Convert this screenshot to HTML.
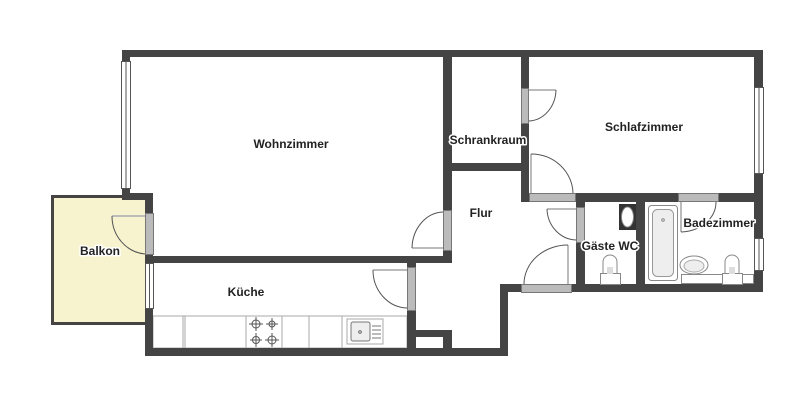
<!DOCTYPE html>
<html><head><meta charset="utf-8"><style>
html,body{margin:0;padding:0;background:#fff;width:811px;height:406px;overflow:hidden}
svg{display:block}
text{font-family:"Liberation Sans",sans-serif;font-size:12px;font-weight:bold;fill:#222;stroke:#fff;stroke-width:3px;paint-order:stroke;stroke-linejoin:round}
</style></head><body>
<svg width="811" height="406" viewBox="0 0 811 406" xmlns="http://www.w3.org/2000/svg">
<rect x="52.5" y="196.5" width="96" height="127" fill="#f7f3cf" stroke="#444" stroke-width="3"/>
<g fill="#fff" stroke="#aaa" stroke-width="1">
<rect x="153" y="316" width="254" height="32"/>
<line x1="183" y1="316" x2="183" y2="348"/><line x1="185" y1="316" x2="185" y2="348"/>
<line x1="246" y1="316" x2="246" y2="348"/><line x1="282" y1="316" x2="282" y2="348"/>
<line x1="309" y1="316" x2="309" y2="348"/><line x1="342" y1="316" x2="342" y2="348"/>
<rect x="347" y="319" width="36" height="25"/>
<rect x="351" y="322" width="19" height="19" rx="2" fill="#eee" stroke="#777"/>
<line x1="372" y1="326" x2="381" y2="326" stroke="#777"/><line x1="372" y1="330" x2="381" y2="330" stroke="#777"/><line x1="372" y1="334" x2="381" y2="334" stroke="#777"/><line x1="372" y1="338" x2="381" y2="338" stroke="#777"/>
</g>
<circle cx="360" cy="332" r="1.3" fill="none" stroke="#666"/>
<g fill="none" stroke="#555" stroke-width="1">
<circle cx="256" cy="324" r="4"/><circle cx="272" cy="324" r="3"/><circle cx="256" cy="340" r="3.5"/><circle cx="272" cy="340" r="4"/>
<path d="M249 324h14M256 317v14M266 324h12M272 318v12M250 340h12M256 333v14M265 340h14M272 333v14"/>
</g>
<g fill="#444">
<rect x="122" y="50" width="641" height="7"/>
<rect x="122" y="50" width="8" height="150"/>
<rect x="122" y="193" width="31" height="7"/>
<rect x="145" y="193" width="8" height="163"/>
<rect x="145" y="256" width="307" height="7"/>
<rect x="443" y="50" width="9" height="213"/>
<rect x="145" y="348" width="363" height="8"/>
<rect x="407" y="263" width="9" height="93"/>
<rect x="407" y="330" width="45" height="7"/>
<rect x="443" y="330" width="9" height="26"/>
<rect x="521" y="50" width="8" height="152"/>
<rect x="452" y="163" width="69" height="8"/>
<rect x="521" y="193" width="242" height="9"/>
<rect x="754" y="50" width="9" height="242"/>
<rect x="576" y="193" width="9" height="99"/>
<rect x="636" y="193" width="9" height="99"/>
<rect x="500" y="284" width="263" height="8"/>
<rect x="500" y="284" width="8" height="72"/>
</g>
<rect x="417" y="338" width="25" height="9" fill="#fff"/>
<g fill="#fff" stroke="#555" stroke-width="1">
<rect x="121.5" y="61.5" width="9" height="127"/>
<line x1="126" y1="61" x2="126" y2="189"/>
<rect x="145.5" y="263.5" width="8" height="45"/>
<line x1="149.5" y1="263" x2="149.5" y2="309"/>
<rect x="754.5" y="87.5" width="9" height="86"/>
<line x1="759" y1="87" x2="759" y2="174"/>
<rect x="754.5" y="238.5" width="9" height="32"/>
<line x1="759" y1="238" x2="759" y2="271"/>
</g>
<g fill="#bbb" stroke="#777" stroke-width="1">
<rect x="145.5" y="213.5" width="8" height="41"/>
<rect x="443.5" y="210.5" width="8" height="40"/>
<rect x="407.5" y="267.5" width="8" height="43"/>
<rect x="521.5" y="88.5" width="7" height="35"/>
<rect x="529.5" y="193.5" width="46" height="8"/>
<rect x="678.5" y="193.5" width="40" height="8"/>
<rect x="576.5" y="207.5" width="8" height="35"/>
<rect x="521.5" y="284.5" width="50" height="8"/>
</g>
<g fill="none" stroke="#bbb" stroke-width="2">
<path d="M112 216H145M412 248H443M373 270H407M529 90H556M531 154V193M547 209H576M568 245V284M681 202V232"/>
</g>
<g fill="none" stroke="#555" stroke-width="1">
<path d="M112 216A36 38 0 0 0 145 254"/>
<path d="M412 248A32 37 0 0 1 443 212"/>
<path d="M373 270A35 38 0 0 0 407 308"/>
<path d="M556 90A28 32 0 0 1 529 121"/>
<path d="M531 154A42 40 0 0 1 573 193"/>
<path d="M547 209A30 32 0 0 0 576 240"/>
<path d="M568 245A44 39 0 0 0 524 284"/>
<path d="M681 232A36 30 0 0 0 716 202"/>
</g>
<rect x="619" y="204" width="17" height="26" fill="#333"/>
<ellipse cx="627.5" cy="217" rx="6" ry="10" fill="#fff" stroke="#888"/>
<rect x="648.5" y="205.5" width="29" height="75" rx="3" fill="#fff" stroke="#888"/>
<rect x="652.5" y="209.5" width="21" height="67" rx="5" fill="#eee" stroke="#999"/>
<circle cx="663" cy="220" r="1.3" fill="none" stroke="#888"/>
<rect x="681.5" y="274.5" width="72" height="9" fill="#fff" stroke="#888"/>
<ellipse cx="694" cy="265" rx="14" ry="9" fill="#fff" stroke="#888"/>
<ellipse cx="694" cy="266" rx="10" ry="6" fill="#eee" stroke="#aaa"/>
<g fill="#fff" stroke="#888">
<path d="M603 274V262a7 7 0 0 1 14 0V274Z"/>
<rect x="600.5" y="273.5" width="20" height="11"/>
<path d="M725 274V262a7 7 0 0 1 14 0V274Z"/>
<rect x="722.5" y="273.5" width="20" height="11"/>
</g>
<rect x="607" y="267" width="6" height="7" fill="#ddd"/><rect x="729" y="267" width="6" height="7" fill="#ddd"/>
<text x="291" y="148" text-anchor="middle">Wohnzimmer</text>
<text x="100" y="255" text-anchor="middle">Balkon</text>
<text x="246" y="296" text-anchor="middle">Küche</text>
<text x="488" y="144" text-anchor="middle">Schrankraum</text>
<text x="644" y="131" text-anchor="middle">Schlafzimmer</text>
<text x="481" y="217" text-anchor="middle">Flur</text>
<text x="610" y="250" text-anchor="middle">Gäste WC</text>
<text x="719" y="227" text-anchor="middle">Badezimmer</text>
</svg>
</body></html>
